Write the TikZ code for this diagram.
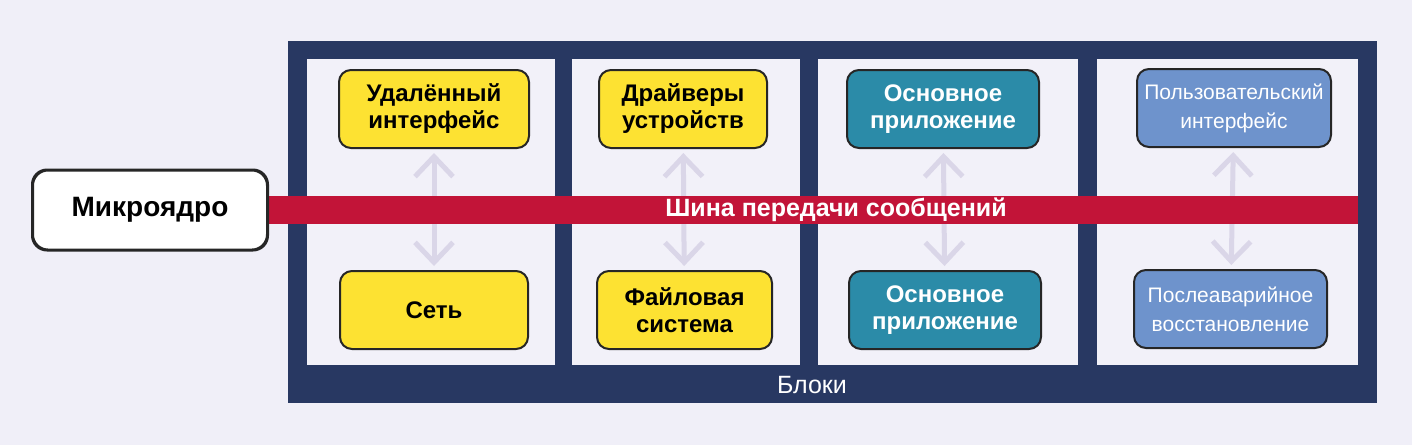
\documentclass[tikz,border=0pt]{standalone}
\usepackage{fontspec}
\setmainfont{Liberation Sans}
\usetikzlibrary{arrows.meta}
\definecolor{bgc}{HTML}{F0EFF8}
\definecolor{navy}{HTML}{283862}
\definecolor{panelc}{HTML}{F2F1F9}
\definecolor{busred}{HTML}{C21438}
\definecolor{boxyellow}{HTML}{FDE232}
\definecolor{boxteal}{HTML}{2B8BA8}
\definecolor{boxblue}{HTML}{6E93CC}
\definecolor{arrowc}{HTML}{DAD6E8}
\begin{document}
\begin{tikzpicture}[x=1pt, y=-1pt,
    box/.style={draw=black!85, line width=2pt, rounded corners=12pt, minimum height=78pt,
        align=center, inner sep=0pt, font=\bfseries\fontsize{24}{27}\selectfont},
    drvbox/.style={box, fill=boxyellow},
    appbox/.style={box, fill=boxteal, text=white},
    guibox/.style={box, fill=boxblue, text=white, font=\fontsize{21}{29}\selectfont},
    panel/.style={fill=panelc, minimum height=306pt, inner sep=0pt},
    link/.style={arrowc, line width=5pt, shorten <=4pt, shorten >=4pt,
        {Straight Barb[length=20pt,width=38pt]}-{Straight Barb[length=20pt,width=38pt]}}]
    \useasboundingbox (0,0) rectangle (1412,445);
    \fill[bgc] (0,0) rectangle (1412,445);
    % frame and panels
    \node[fill=navy, minimum width=1089pt, minimum height=362pt, inner sep=0pt] (frame) at (832.5,222) {};
    \node[panel, minimum width=248pt] (p1) at (431,212) {};
    \node[panel, minimum width=228pt] (p2) at (686,212) {};
    \node[panel, minimum width=260pt] (p3) at (948,212) {};
    \node[panel, minimum width=261pt] (p4) at (1227.5,212) {};
    \node[text=white, font=\fontsize{25}{27}\selectfont] (blk) at (812,385) {Блоки};
    % blocks
    \node[drvbox, minimum width=190pt] (rif) at (434,109) {Удалённый\\интерфейс};
    \node[drvbox, minimum width=188pt] (net) at (434,310) {Сеть};
    \node[drvbox, minimum width=168pt] (drv) at (683,109) {Драйверы\\устройств};
    \node[drvbox, minimum width=175pt] (fs) at (684.5,310) {Файловая\\система};
    \node[appbox, minimum width=192pt] (app1) at (943,109) {Основное\\приложение};
    \node[appbox, minimum width=192pt] (app2) at (945,310) {Основное\\приложение};
    \node[guibox, minimum width=194pt] (gui) at (1234,108) {Пользовательский\\интерфейс};
    \node[guibox, minimum width=193pt] (rec) at (1230.5,309) {Послеаварийное\\восстановление};
    \draw[link] (rif) -- (net);
    \draw[link] (drv) -- (fs);
    \draw[link] (app1) -- (app2);
    \draw[link] (gui) -- (rec);
    % bus
    \node[draw=black!85, line width=2pt, fill=white, rounded corners=15pt, minimum width=234pt,
        minimum height=79pt, font=\bfseries\fontsize{28}{30}\selectfont] (mk) at (150,210) {Микроядро};
    \fill[busred] (mk.east) ++(0,-14) rectangle (p4.east |- 0,224);
    \node[text=white, font=\bfseries\fontsize{25}{26}\selectfont] (bus) at (836,210) {Шина передачи сообщений};
    \draw[draw=black!85, line width=2pt, rounded corners=15pt] (mk.south west) rectangle (mk.north east);
\end{tikzpicture}
\end{document}
